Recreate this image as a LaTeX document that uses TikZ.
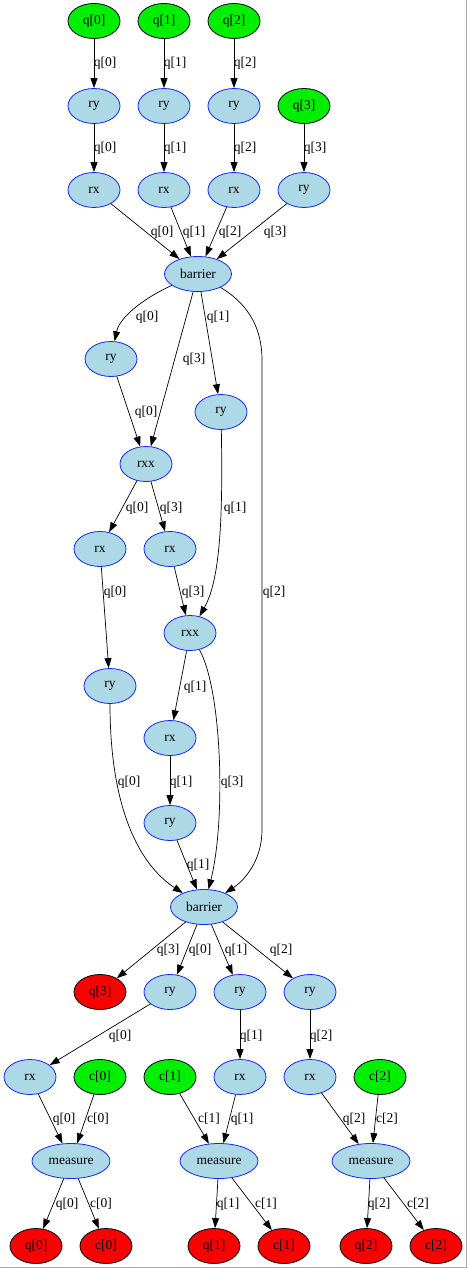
\documentclass[tikz,border=0pt]{standalone}
\usepackage{fontspec}
\setmainfont{Liberation Serif}
\usetikzlibrary{shapes.geometric,arrows.meta}
\definecolor{gatefill}{RGB}{173,216,230}
\definecolor{gateline}{RGB}{20,40,235}
\definecolor{ingreen}{RGB}{0,238,0}
\definecolor{outred}{RGB}{250,0,0}
\definecolor{framegray}{RGB}{170,170,170}
\begin{document}
\begin{tikzpicture}[x=1pt,y=-1pt,
  txt/.style={font=\fontsize{13.5}{15}\selectfont},
  gate/.style={ellipse,draw=gateline,fill=gatefill,line width=0.8pt,
    minimum width=52pt,minimum height=35pt,inner sep=0pt,txt},
  wide/.style={gate,minimum width=67pt},
  meas/.style={gate,minimum width=78pt},
  qin/.style={gate,draw=black,fill=ingreen},
  qout/.style={gate,draw=black,fill=outred},
  wire/.style={draw=black,line width=0.7pt,-{Triangle[length=10pt,width=7pt]}},
  lbl/.style={txt,inner sep=0pt}]
\path[use as bounding box] (0,0) rectangle (467,1268);
\draw[framegray,line width=1pt] (466,0) -- (466,1267) -- (0,1267);

% inputs and first layer
\node[qin] (in0) at (94,21) {q[0]};
\node[qin] (in1) at (164,21) {q[1]};
\node[qin] (in2) at (234,21) {q[2]};
\node[gate] (ya0) at (94,106) {ry};
\node[gate] (ya1) at (164,106) {ry};
\node[gate] (ya2) at (234,106) {ry};
\node[qin] (in3) at (304,106) {q[3]};
\node[gate] (xa0) at (94,190) {rx};
\node[gate] (xa1) at (164,190) {rx};
\node[gate] (xa2) at (234,190) {rx};
\node[gate] (ya3) at (304,190) {ry};
\node[wide] (b1) at (198,274) {barrier};

% entangling block
\node[gate] (yb0) at (111,359) {ry};
\node[gate] (yb1) at (221,412) {ry};
\node[gate] (rxx1) at (146,464) {rxx};
\node[gate] (xb0) at (100,549) {rx};
\node[gate] (xb3) at (170,549) {rx};
\node[gate] (rxx2) at (190,633) {rxx};
\node[gate] (yc0) at (110,686) {ry};
\node[gate] (xc1) at (170,738) {rx};
\node[gate] (yc1) at (170,823) {ry};
\node[wide] (b2) at (204,907) {barrier};

% final layer and measurements
\node[qout] (out3) at (100,992) {q[3]};
\node[gate] (yd0) at (170,992) {ry};
\node[gate] (yd1) at (240,992) {ry};
\node[gate] (yd2) at (310,992) {ry};
\node[gate] (xd0) at (30,1077) {rx};
\node[qin] (cin0) at (100,1077) {c[0]};
\node[qin] (cin1) at (170,1077) {c[1]};
\node[gate] (xd1) at (240,1077) {rx};
\node[gate] (xd2) at (310,1077) {rx};
\node[qin] (cin2) at (380,1077) {c[2]};
\node[meas] (m0) at (71,1161) {measure};
\node[meas] (m1) at (219,1161) {measure};
\node[meas] (m2) at (371,1161) {measure};
\node[qout] (qo0) at (36,1246) {q[0]};
\node[qout] (co0) at (106,1246) {c[0]};
\node[qout] (qo1) at (214,1246) {q[1]};
\node[qout] (co1) at (284,1246) {c[1]};
\node[qout] (qo2) at (366,1246) {q[2]};
\node[qout] (co2) at (436,1246) {c[2]};

% connectors
\draw[wire] (in0) -- (ya0);
\draw[wire] (in1) -- (ya1);
\draw[wire] (in2) -- (ya2);
\draw[wire] (ya0) -- (xa0);
\draw[wire] (ya1) -- (xa1);
\draw[wire] (ya2) -- (xa2);
\draw[wire] (in3) -- (ya3);
\draw[wire] (xa0) -- (b1);
\draw[wire] (xa1) -- (b1);
\draw[wire] (xa2) -- (b1);
\draw[wire] (ya3) -- (b1);

\draw[wire] (b1) .. controls (150,295) and (120,315) .. (yb0);
\draw[wire] (b1) -- (rxx1);
\draw[wire] (b1) -- (yb1);
\draw[wire] (b1) .. controls (250,305) and (262,330) .. (262,360) -- (262,830)
  .. controls (262,860) and (245,880) .. (b2);
\draw[wire] (yb0) -- (rxx1);
\draw[wire] (rxx1) -- (xb0);
\draw[wire] (rxx1) -- (xb3);
\draw[wire] (yb1) .. controls (223,520) and (220,580) .. (rxx2);
\draw[wire] (xb0) -- (yc0);
\draw[wire] (xb3) -- (rxx2);
\draw[wire] (rxx2) -- (xc1);
\draw[wire] (rxx2) .. controls (222,690) and (226,820) .. (b2);
\draw[wire] (yc0) .. controls (110,810) and (140,865) .. (b2);
\draw[wire] (xc1) -- (yc1);
\draw[wire] (yc1) -- (b2);

\draw[wire] (b2) -- (out3);
\draw[wire] (b2) -- (yd0);
\draw[wire] (b2) -- (yd1);
\draw[wire] (b2) -- (yd2);
\draw[wire] (yd0) -- (xd0);
\draw[wire] (yd1) -- (xd1);
\draw[wire] (yd2) -- (xd2);
\draw[wire] (xd0) -- (m0);
\draw[wire] (cin0) -- (m0);
\draw[wire] (cin1) -- (m1);
\draw[wire] (xd1) -- (m1);
\draw[wire] (xd2) -- (m2);
\draw[wire] (cin2) -- (m2);
\draw[wire] (m0) -- (qo0);
\draw[wire] (m0) -- (co0);
\draw[wire] (m1) -- (qo1);
\draw[wire] (m1) -- (co1);
\draw[wire] (m2) -- (qo2);
\draw[wire] (m2) -- (co2);

% connector labels
\node[lbl] (l1) at (105,63) {q[0]};
\node[lbl] (l2) at (175,63) {q[1]};
\node[lbl] (l3) at (245,63) {q[2]};
\node[lbl] (l4) at (105,148) {q[0]};
\node[lbl] (l5) at (175,148) {q[1]};
\node[lbl] (l6) at (245,148) {q[2]};
\node[lbl] (l7) at (315,148) {q[3]};
\node[lbl] (l8) at (162,232) {q[0]};
\node[lbl] (l9) at (194,232) {q[1]};
\node[lbl] (l10) at (230,232) {q[2]};
\node[lbl] (l11) at (275,232) {q[3]};
\node[lbl] (l12) at (147,317) {q[0]};
\node[lbl] (l13) at (194,359) {q[3]};
\node[lbl] (l14) at (218,317) {q[1]};
\node[lbl] (l15) at (274,592) {q[2]};
\node[lbl] (l16) at (146,412) {q[0]};
\node[lbl] (l17) at (137,508) {q[0]};
\node[lbl] (l18) at (171,508) {q[3]};
\node[lbl] (l19) at (235,508) {q[1]};
\node[lbl] (l20) at (115,592) {q[0]};
\node[lbl] (l21) at (193,592) {q[3]};
\node[lbl] (l22) at (195,687) {q[1]};
\node[lbl] (l23) at (232,782) {q[3]};
\node[lbl] (l24) at (129,782) {q[0]};
\node[lbl] (l25) at (181,782) {q[1]};
\node[lbl] (l26) at (198,865) {q[1]};
\node[lbl] (l27) at (168,950) {q[3]};
\node[lbl] (l28) at (200,950) {q[0]};
\node[lbl] (l29) at (236,950) {q[1]};
\node[lbl] (l30) at (281,950) {q[2]};
\node[lbl] (l31) at (120,1036) {q[0]};
\node[lbl] (l32) at (251,1036) {q[1]};
\node[lbl] (l33) at (321,1036) {q[2]};
\node[lbl] (l34) at (64,1119) {q[0]};
\node[lbl] (l35) at (98,1119) {c[0]};
\node[lbl] (l36) at (209,1119) {c[1]};
\node[lbl] (l37) at (242,1119) {q[1]};
\node[lbl] (l38) at (354,1119) {q[2]};
\node[lbl] (l39) at (387,1119) {c[2]};
\node[lbl] (l40) at (67,1204) {q[0]};
\node[lbl] (l41) at (101,1204) {c[0]};
\node[lbl] (l42) at (228,1204) {q[1]};
\node[lbl] (l43) at (266,1204) {c[1]};
\node[lbl] (l44) at (379,1204) {q[2]};
\node[lbl] (l45) at (418,1204) {c[2]};
\end{tikzpicture}
\end{document}
